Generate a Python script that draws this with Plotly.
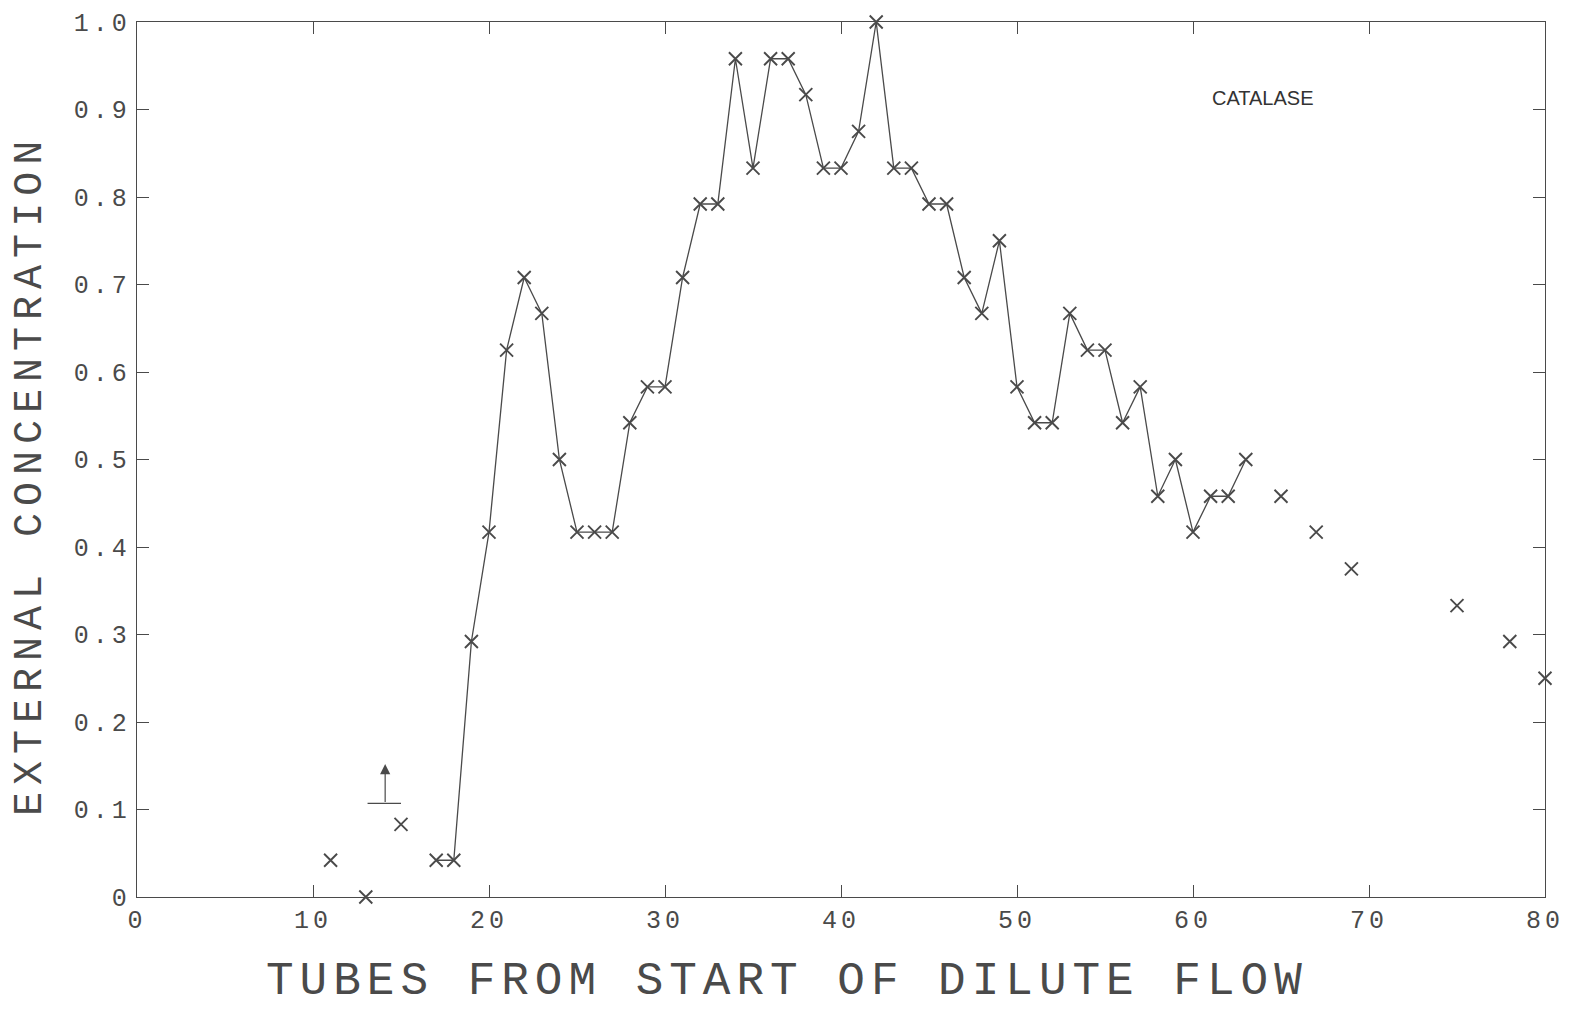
import plotly.graph_objects as go

# Isolated leading points
pre_tubes = [11, 13, 15]
pre_conc = [0.042, 0.0, 0.083]

# Connected run
run_tubes = list(range(17, 64))
run_conc = [0.042, 0.042, 0.292, 0.417, 0.625, 0.708, 0.667, 0.5, 0.417, 0.417,
            0.417, 0.542, 0.583, 0.583, 0.708, 0.792, 0.792, 0.958, 0.833, 0.958,
            0.958, 0.917, 0.833, 0.833, 0.875, 1.0, 0.833, 0.833, 0.792, 0.792,
            0.708, 0.667, 0.75, 0.583, 0.542, 0.542, 0.667, 0.625, 0.625, 0.542,
            0.583, 0.458, 0.5, 0.417, 0.458, 0.458, 0.5]

# Isolated trailing points
post_tubes = [65, 67, 69, 75, 78, 80]
post_conc = [0.458, 0.417, 0.375, 0.333, 0.292, 0.25]

x_ticks = [0, 10, 20, 30, 40, 50, 60, 70, 80]
x_ticktext = ["0", "10", "20", "30", "40", "50", "60", "70", "80"]
y_ticks = [0, 0.1, 0.2, 0.3, 0.4, 0.5, 0.6, 0.7, 0.8, 0.9, 1.0]
y_ticktext = ["0", "0.1", "0.2", "0.3", "0.4", "0.5", "0.6", "0.7", "0.8", "0.9", "1.0"]

x_title = "TUBES FROM START OF DILUTE FLOW"
y_title = "EXTERNAL CONCENTRATION"
label = "CATALASE"

INK = "#4a4a4a"
marker = dict(symbol="x-thin", size=13, line=dict(width=1.9, color=INK), color=INK)


def spaced(t, px):
    return '<span style="letter-spacing:%dpx">%s</span>' % (px, t)


fig = go.Figure()
fig.add_trace(go.Scatter(x=run_tubes, y=run_conc, mode="lines+markers",
                         line=dict(color=INK, width=1.3), marker=marker,
                         cliponaxis=False, showlegend=False))
fig.add_trace(go.Scatter(x=pre_tubes + post_tubes, y=pre_conc + post_conc, mode="markers",
                         marker=marker, cliponaxis=False, showlegend=False))

# arrow marker near tube 14
fig.add_shape(type="line", x0=13.1, x1=15.0, y0=0.107, y1=0.107,
              line=dict(color=INK, width=1.3))
fig.add_annotation(x=14.1, y=0.152, ax=14.1, ay=0.107, xref="x", yref="y",
                   axref="x", ayref="y", text="", showarrow=True,
                   arrowhead=2, arrowsize=1.7, arrowwidth=1.2, arrowcolor=INK)

fig.add_annotation(x=0.8, y=0.913, xref="x domain", yref="y domain", text=label,
                   showarrow=False, xanchor="center", yanchor="middle",
                   font=dict(family="Liberation Sans", size=20, color="#333"))

# axis titles
fig.add_annotation(x=0.4616, y=-0.097, xref="paper", yref="paper",
                   text=spaced(x_title, 6), showarrow=False,
                   xanchor="center", yanchor="middle", borderpad=0,
                   font=dict(family="Liberation Mono", size=46, color=INK))
fig.add_annotation(x=-0.0755, y=0.482, xref="paper", yref="paper",
                   text=spaced(y_title, 7), showarrow=False, textangle=-90,
                   xanchor="center", yanchor="middle", borderpad=0,
                   font=dict(family="Liberation Mono", size=40, color=INK))

tickfont = dict(family="Liberation Mono", size=25, color=INK)
fig.update_xaxes(range=[0, 80], tickvals=x_ticks,
                 ticktext=[spaced(t, 4) for t in x_ticktext],
                 ticks="inside", ticklen=12, tickwidth=1.2, tickcolor=INK,
                 showline=True, linecolor=INK, linewidth=1.3, mirror="allticks",
                 showgrid=False, zeroline=False, tickfont=tickfont, automargin=False)
fig.update_yaxes(range=[0, 1.0], tickvals=y_ticks,
                 ticktext=[spaced(t, 4) for t in y_ticktext],
                 ticks="inside", ticklen=12, tickwidth=1.2, tickcolor=INK,
                 showline=True, linecolor=INK, linewidth=1.3, mirror="allticks",
                 showgrid=False, zeroline=False, tickfont=tickfont, automargin=False)

fig.update_layout(width=1570, height=1009, paper_bgcolor="white", plot_bgcolor="white",
                  margin=dict(l=129, r=33, t=14, b=120), showlegend=False)

fig.write_html("out.html")
